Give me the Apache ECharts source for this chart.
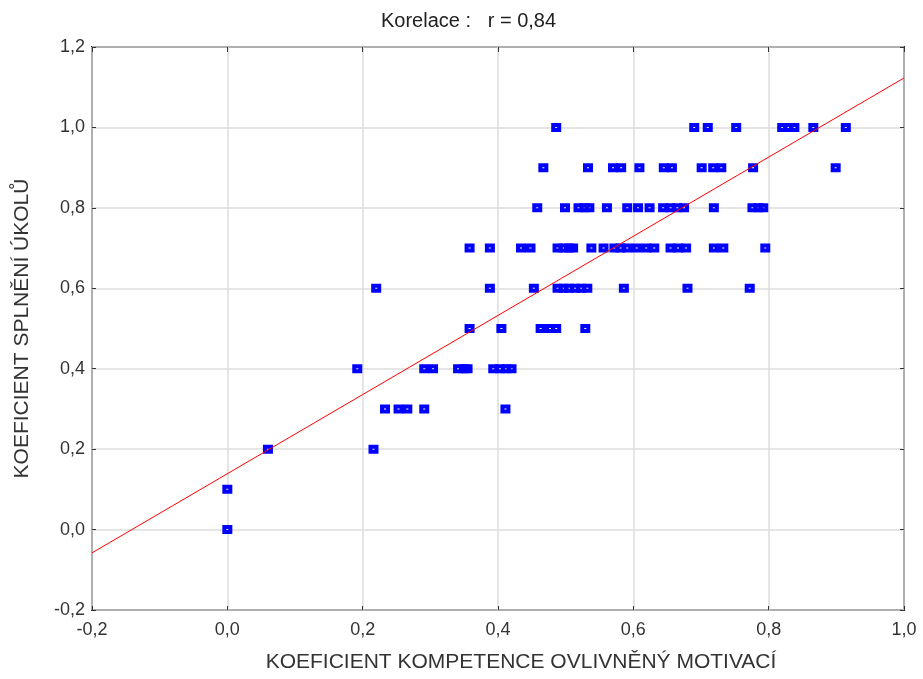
<!DOCTYPE html>
<html>
<head>
<meta charset="utf-8">
<script src="https://cdn.jsdelivr.net/npm/echarts@6/dist/echarts.min.js"></script>
<style>
  html, body { margin: 0; padding: 0; background: #fff; }
  #chart { width: 923px; height: 679px; }
</style>
</head>
<body>
<div id="chart"></div>
<script>
// body (x) hodnoty pro jednotlivé řádky y
const xAtY100 = [0.486, 0.690, 0.710, 0.752, 0.820, 0.829, 0.838, 0.866, 0.914];
const xAtY090 = [0.467, 0.533, 0.570, 0.582, 0.609, 0.645, 0.657, 0.701, 0.718, 0.730, 0.777, 0.899];
const xAtY080 = [0.458, 0.499, 0.519, 0.528, 0.535, 0.561, 0.591, 0.607, 0.624, 0.644, 0.655, 0.665, 0.675, 0.719, 0.776, 0.785, 0.792];
const xAtY070 = [0.358, 0.388, 0.434, 0.448, 0.488, 0.497, 0.505, 0.511, 0.538, 0.556, 0.572, 0.581, 0.591, 0.605, 0.619, 0.631, 0.655, 0.666, 0.678, 0.719, 0.733, 0.795];
const xAtY060 = [0.220, 0.388, 0.453, 0.488, 0.497, 0.505, 0.514, 0.523, 0.532, 0.586, 0.680, 0.772];
const xAtY050 = [0.358, 0.405, 0.463, 0.477, 0.486, 0.529];
const xAtY040 = [0.192, 0.291, 0.304, 0.341, 0.350, 0.355, 0.393, 0.403, 0.412, 0.420];
const xAtY030 = [0.233, 0.253, 0.266, 0.291, 0.411];
const xAtY020 = [0.060, 0.216];
const xAtY010 = [0.0];
const xAtY000 = [0.0];

const rows = [
  [1.0, xAtY100], [0.9, xAtY090], [0.8, xAtY080], [0.7, xAtY070],
  [0.6, xAtY060], [0.5, xAtY050], [0.4, xAtY040], [0.3, xAtY030],
  [0.2, xAtY020], [0.1, xAtY010], [0.0, xAtY000]
];

// regresní přímka
const fitX = [-0.2, 1.0];
const fitY = [-0.058, 1.123];

const titleText = 'Korelace :   r = 0,84';
const xName = 'KOEFICIENT KOMPETENCE OVLIVNĚNÝ MOTIVACÍ';
const yName = 'KOEFICIENT SPLNĚNÍ ÚKOLŮ';

let points = [];
rows.forEach((r) => {
  r[1].forEach((x) => {
    points.push([x, r[0]]);
  });
});
let fitLine = fitX.map((x, i) => [x, fitY[i]]);

let myChart = echarts.init(document.getElementById('chart'));
let fmt = (v) => v.toFixed(1).replace('.', ',');
let font = 'Liberation Sans, Arial, sans-serif';

let option = {
  backgroundColor: '#fff',
  animation: false,
  title: {
    text: titleText,
    left: 376,
    top: 6,
    textStyle: { fontFamily: font, fontSize: 20, fontWeight: 'normal', color: '#222' }
  },
  grid: { left: 92, right: 19, top: 47, bottom: 69, show: true, borderColor: '#2a2a2a', borderWidth: 2, backgroundColor: 'transparent' },
  xAxis: [
    {
      type: 'value', min: -0.2, max: 1.0, interval: 0.2,
      name: xName, nameLocation: 'middle', nameGap: 42,
      nameTextStyle: { fontFamily: font, fontSize: 21, color: '#333', padding: [0, 0, 0, 46] },
      axisLine: { show: false, onZero: false },
      axisTick: { show: true, inside: true, length: 4, lineStyle: { color: '#333' } },
      axisLabel: { formatter: fmt, margin: 11, fontFamily: font, fontSize: 18, color: '#333' },
      splitLine: { show: true, lineStyle: { color: '#dcdcdc', width: 1.5 } }
    },
    {
      type: 'value', min: -0.2, max: 1.0, interval: 0.2, position: 'top',
      axisLine: { show: false, onZero: false },
      axisTick: { show: true, inside: true, length: 5, lineStyle: { color: '#333' } },
      axisLabel: { show: false },
      splitLine: { show: false }
    }
  ],
  yAxis: [
    {
      type: 'value', min: -0.2, max: 1.2, interval: 0.2,
      name: yName, nameLocation: 'middle', nameGap: 59, nameRotate: 90,
      nameTextStyle: { fontFamily: font, fontSize: 21, color: '#333' },
      axisLine: { show: false, onZero: false },
      axisTick: { show: true, inside: true, length: 4, lineStyle: { color: '#333' } },
      axisLabel: { formatter: fmt, margin: 7, fontFamily: font, fontSize: 18, color: '#333' },
      splitLine: { show: true, lineStyle: { color: '#dcdcdc', width: 1.5 } }
    },
    {
      type: 'value', min: -0.2, max: 1.2, interval: 0.2, position: 'right',
      axisLine: { show: false, onZero: false },
      axisTick: { show: true, inside: true, length: 4, lineStyle: { color: '#333' } },
      axisLabel: { show: false },
      splitLine: { show: false }
    }
  ],
  series: [
    {
      type: 'scatter',
      data: points,
      // čtverec s malým bílým otvorem uprostřed
      symbol: 'path://M0,0H10V9H0Z M4,4V5H6V4Z',
      symbolSize: [10, 9],
      itemStyle: { color: '#0000ff', opacity: 1 },
      z: 3
    },
    {
      type: 'line',
      data: fitLine,
      showSymbol: false,
      lineStyle: { color: '#ff0000', width: 1 },
      z: 4
    }
  ]
};
myChart.setOption(option);
</script>
</body>
</html>
